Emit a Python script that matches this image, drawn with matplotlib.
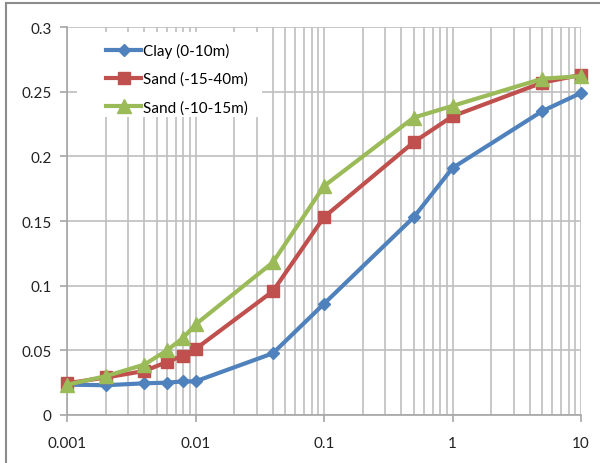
import matplotlib
matplotlib.use("Agg")
import matplotlib.pyplot as plt
from matplotlib.lines import Line2D
from matplotlib.patches import Rectangle
from matplotlib.ticker import LogLocator, FixedLocator, FixedFormatter, NullFormatter

plt.rcParams['font.family'] = ['Lato', 'DejaVu Sans']

x_clay = [0.001, 0.002, 0.004, 0.006, 0.008, 0.01, 0.04, 0.1, 0.5, 1, 5, 10]
clay = [0.0235, 0.023, 0.0245, 0.025, 0.026, 0.026, 0.0477, 0.086, 0.153, 0.191, 0.235, 0.249]

x_sand1 = [0.001, 0.002, 0.004, 0.006, 0.008, 0.01, 0.04, 0.1, 0.5, 1, 5, 10]
sand1 = [0.0245, 0.029, 0.034, 0.041, 0.046, 0.051, 0.0957, 0.153, 0.211, 0.231, 0.257, 0.263]

x_sand2 = [0.001, 0.002, 0.004, 0.006, 0.008, 0.01, 0.04, 0.1, 0.5, 1, 5, 10]
sand2 = [0.0234, 0.030, 0.039, 0.050, 0.0596, 0.070, 0.118, 0.177, 0.230, 0.239, 0.260, 0.262]

labels = ['Clay (0-10m)', 'Sand (-15-40m)', 'Sand (-10-15m)']
colors = ['#4F81BD', '#C0504D', '#9BBB59']
markers = ['D', 's', '^']
msizes = [6.5, 8.5, 9.5]

x_ticks = [0.001, 0.01, 0.1, 1, 10]
x_ticklabels = ['0.001', '0.01', '0.1', '1', '10']
y_ticks = [0, 0.05, 0.1, 0.15, 0.2, 0.25, 0.3]
y_ticklabels = ['0', '0.05', '0.1', '0.15', '0.2', '0.25', '0.3']

W, H = 600, 464
L, R, T, B = 67, 581, 28, 416
fig = plt.figure(figsize=(W/100, H/100), dpi=100)
ax = fig.add_axes([L/W, 1-B/H, (R-L)/W, (B-T)/H])

def ax_x(px):
    return (px - L) / (R - L)

def ax_y(py):
    return (B - py) / (B - T)

series = [(x_clay, clay), (x_sand1, sand1), (x_sand2, sand2)]
for (xs, ys), lab, c, m, ms in zip(series, labels, colors, markers, msizes):
    ax.plot(xs, ys, color=c, lw=3.0, marker=m, markersize=ms, label=lab, zorder=3,
            clip_on=False)

ax.set_xscale('log')
ax.set_xlim(0.001, 10)
ax.set_ylim(0, 0.3)
ax.xaxis.set_major_locator(FixedLocator(x_ticks))
ax.xaxis.set_major_formatter(FixedFormatter(x_ticklabels))
ax.xaxis.set_minor_locator(LogLocator(base=10, subs=range(2, 10), numticks=20))
ax.xaxis.set_minor_formatter(NullFormatter())
ax.yaxis.set_major_locator(FixedLocator(y_ticks))
ax.yaxis.set_major_formatter(FixedFormatter(y_ticklabels))

grid_c = '#BFBFBF'
ax.grid(True, which='major', axis='both', color=grid_c, lw=1.2, zorder=0)
ax.grid(True, which='minor', axis='x', color=grid_c, lw=1.2, zorder=0)
ax.set_axisbelow(True)
for s in ['top', 'right']:
    ax.spines[s].set_visible(False)
for s in ['left', 'bottom']:
    ax.spines[s].set_color('#A6A6A6')
    ax.spines[s].set_linewidth(1.2)
ax.tick_params(axis='both', which='major', direction='out', length=5, width=1.2,
               color='#A6A6A6', labelsize=11, labelcolor='#222222')
ax.tick_params(axis='x', which='minor', length=0)
ax.tick_params(axis='x', pad=10)
ax.tick_params(axis='y', pad=6)

# white legend background box covering gridlines
ax.add_patch(Rectangle((ax_x(77), ax_y(118)), ax_x(262) - ax_x(77), ax_y(33) - ax_y(118),
                       transform=ax.transAxes, facecolor='white', edgecolor='none',
                       zorder=2))

leg = ax.legend(loc='upper left', bbox_to_anchor=(ax_x(106), ax_y(44)), frameon=False,
                fontsize=11, handlelength=2.3, handletextpad=0.1, labelspacing=0.9,
                borderpad=0.0, borderaxespad=0.0)

# chart outer border (top and left)
fig.add_artist(Line2D([6/W, 1.0], [1-4/H, 1-4/H], color='#8C8C8C', lw=1.5,
                      transform=fig.transFigure))
fig.add_artist(Line2D([6/W, 6/W], [0, 1-4/H], color='#8C8C8C', lw=1.5,
                      transform=fig.transFigure))

fig.savefig('out.png', dpi=100)
